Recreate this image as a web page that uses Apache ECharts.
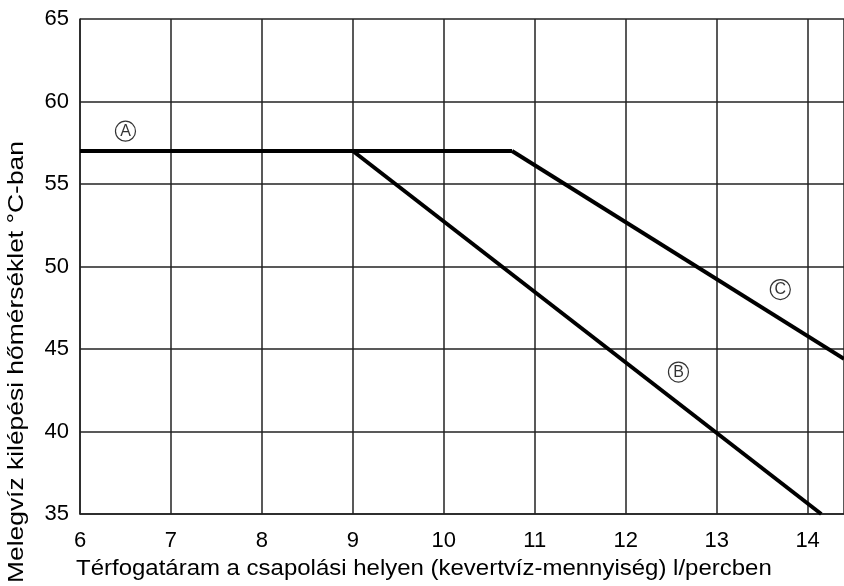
<!DOCTYPE html>
<html><head><meta charset="utf-8">
<script src="https://cdn.jsdelivr.net/npm/echarts@6/dist/echarts.min.js"></script>
<style>html,body{margin:0;padding:0;background:#fff}#c{width:844px;height:586px}</style>
</head><body><div id="c"></div>
<script>
const lineA = [[6, 57], [10.75, 57]];
const lineB = [[9, 57], [14.15, 35]];
const lineC = [[10.75, 57], [14.4, 44.4]];
const labelLetters = ['A', 'B', 'C'];
const labelX = [6.5, 12.58, 13.7];
const labelY = [58.2, 43.6, 48.6];
const xTitle = 'Térfogatáram a csapolási helyen (kevertvíz-mennyiség) l/percben';
const yTitle = 'Melegvíz kilépési hőmérséklet °C-ban';

const font = 'Liberation Sans, Arial, sans-serif';
const chart = echarts.init(document.getElementById('c'), null, {renderer: 'canvas'});
const lineStyle = {color: '#000', width: 4};
const mk = (d) => ({type: 'line', data: d, symbol: 'none', lineStyle: lineStyle, silent: true, z: 3});
chart.setOption({
  animation: false,
  grid: {left: 80, top: 19, right: 0, bottom: 72},
  xAxis: {
    type: 'value', min: 6, max: 14.4, interval: 1,
    axisLine: {show: true, lineStyle: {color: '#222', width: 1.5}},
    axisTick: {show: false},
    axisLabel: {color: '#000', fontSize: 22, fontFamily: font, margin: 16, showMaxLabel: false,
      formatter: v => Number.isInteger(v) ? String(v) : ''},
    splitLine: {show: true, lineStyle: {color: '#222', width: 1.5}}
  },
  yAxis: {
    type: 'value', min: 35, max: 65, interval: 5,
    axisLine: {show: true, lineStyle: {color: '#222', width: 1.5}},
    axisTick: {show: false},
    axisLabel: {color: '#000', fontSize: 22, fontFamily: font, margin: 11, padding: [5, 0, 0, 0]},
    splitLine: {show: true, lineStyle: {color: '#222', width: 1.5}}
  },
  series: [
    mk(lineA), mk(lineB), mk(lineC),
    {
      type: 'scatter', z: 4, silent: true,
      data: labelX.map((x, i) => ({value: [x, labelY[i]], name: labelLetters[i]})),
      symbol: 'circle', symbolSize: 20,
      itemStyle: {color: '#fff', borderColor: '#000', borderWidth: 1.2},
      label: {show: true, position: 'inside', formatter: p => p.name, color: '#000', fontSize: 16, fontFamily: font}
    }
  ],
  graphic: [
    {type: 'text', x: 76, y: 558, scaleX: 1.09, style: {text: xTitle, fontSize: 22, fontFamily: font, fill: '#000', textVerticalAlign: 'top'}},
    {type: 'text', x: 6, y: 583, rotation: Math.PI / 2, scaleX: 1.2, style: {text: yTitle, fontSize: 22, fontFamily: font, fill: '#000', textVerticalAlign: 'top'}}
  ]
});
</script></body></html>
